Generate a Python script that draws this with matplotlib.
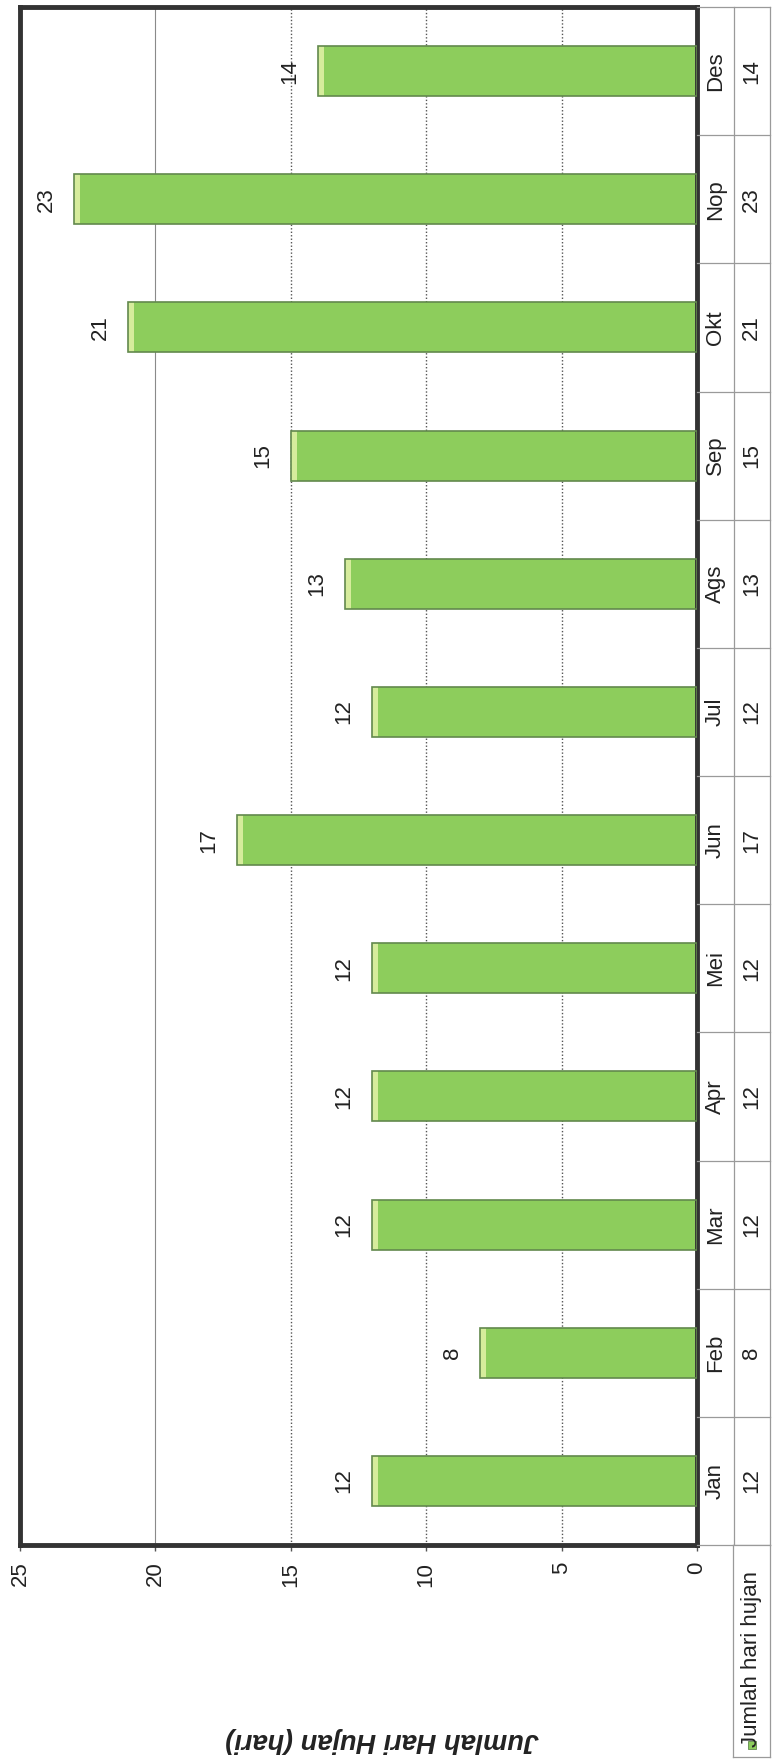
import matplotlib
matplotlib.use("Agg")
import matplotlib.pyplot as plt
import numpy as np

plt.rcParams['font.family'] = ['Liberation Sans', 'DejaVu Sans']

# data
months = ['Jan', 'Feb', 'Mar', 'Apr', 'Mei', 'Jun', 'Jul', 'Ags', 'Sep', 'Okt', 'Nop', 'Des']
hari_hujan = [12, 8, 12, 12, 12, 17, 12, 13, 15, 21, 23, 14]
xticks = [0, 5, 10, 15, 20, 25]
series_name = 'Jumlah hari hujan'
axis_title = 'Jumlah Hari Hujan (hari)'

W, H = 777, 1762
def fx(x):
    return x / W
def fy(y):
    return 1 - y / H

green = '#8dcd5c'
edge = '#62894d'
tip = '#d6ec9c'
txt = '#222222'

fig = plt.figure(figsize=(W / 100, H / 100), dpi=100)
fig.patch.set_facecolor('white')

ax = fig.add_axes([fx(20), fy(1545), fx(697) - fx(20), fy(7) - fy(1545)])
pos = np.arange(len(months))
vals = np.array(hari_hujan)
bh = 0.39

# gridlines (20 solid, others dotted like the scan)
for t in xticks[1:-1]:
    if t == 20:
        ax.axvline(t, color='#8a8a8a', lw=0.8, zorder=0)
    else:
        ax.axvline(t, color='#555555', lw=1.0, ls=(0, (1, 1.5)), zorder=0)

ax.barh(pos, vals, height=bh, color=green, edgecolor='none', zorder=2)
ax.barh(pos, 0.22, left=vals - 0.22, height=bh, color=tip, edgecolor='none', zorder=3)
ax.barh(pos, vals, height=bh, fill=False, edgecolor=edge, lw=1.2, zorder=4)

for p, v in zip(pos, vals):
    ax.text(v + 1.03, p, str(v), rotation=90, ha='center', va='center',
            fontsize=16, color=txt)

ax.set_xlim(25, 0)
ax.set_ylim(-0.5, len(months) - 0.5)
ax.set_xticks(xticks)
ax.set_xticklabels([str(t) for t in xticks], rotation=90, fontsize=16, color=txt)
ax.tick_params(axis='x', length=4, width=1, color='#555555', pad=8)
ax.set_yticks([])
for s in ax.spines.values():
    s.set_color('#333333')
    s.set_linewidth(3.5)

# axis title (upside down in the scan)
fig.text(fx(382), fy(1740), axis_title, rotation=180, ha='center', va='center',
         fontsize=19.5, fontweight='bold', style='italic', color=txt)

# data table on the right
tab = fig.add_axes([fx(697), fy(1545), fx(770) - fx(697), fy(7) - fy(1545)])
tab.set_xlim(0, 2)
tab.set_ylim(-0.5, len(months) - 0.5)
tab.axis('off')
for k in range(len(months) + 1):
    tab.plot([0, 2], [k - 0.5, k - 0.5], color='#9a9a9a', lw=0.9, clip_on=False)
tab.plot([1, 1], [-0.5, len(months) - 0.5], color='#9a9a9a', lw=0.9, clip_on=False)
tab.plot([2, 2], [-0.5, len(months) - 0.5], color='#9a9a9a', lw=0.9, clip_on=False)
for p, m, v in zip(pos, months, hari_hujan):
    tab.text(0.5, p, m, rotation=90, ha='center', va='center', fontsize=16, color=txt)
    tab.text(1.5, p, str(v), rotation=90, ha='center', va='center', fontsize=16, color=txt)

# legend cell
leg = fig.add_axes([fx(733), fy(1757), fx(770) - fx(733), fy(1545) - fy(1757)])
leg.set_xlim(0, 1)
leg.set_ylim(0, 1)
leg.set_xticks([])
leg.set_yticks([])
for s in leg.spines.values():
    s.set_color('#9a9a9a')
    s.set_linewidth(0.9)
leg.text(0.5, 0.46, series_name, rotation=90, ha='center', va='center',
         fontsize=16, color=txt)
leg.plot([0.5], [0.055], marker='s', markersize=6, color=green,
         markeredgecolor=edge, markeredgewidth=0.6)

fig.savefig('out.png', dpi=100, facecolor='white')
